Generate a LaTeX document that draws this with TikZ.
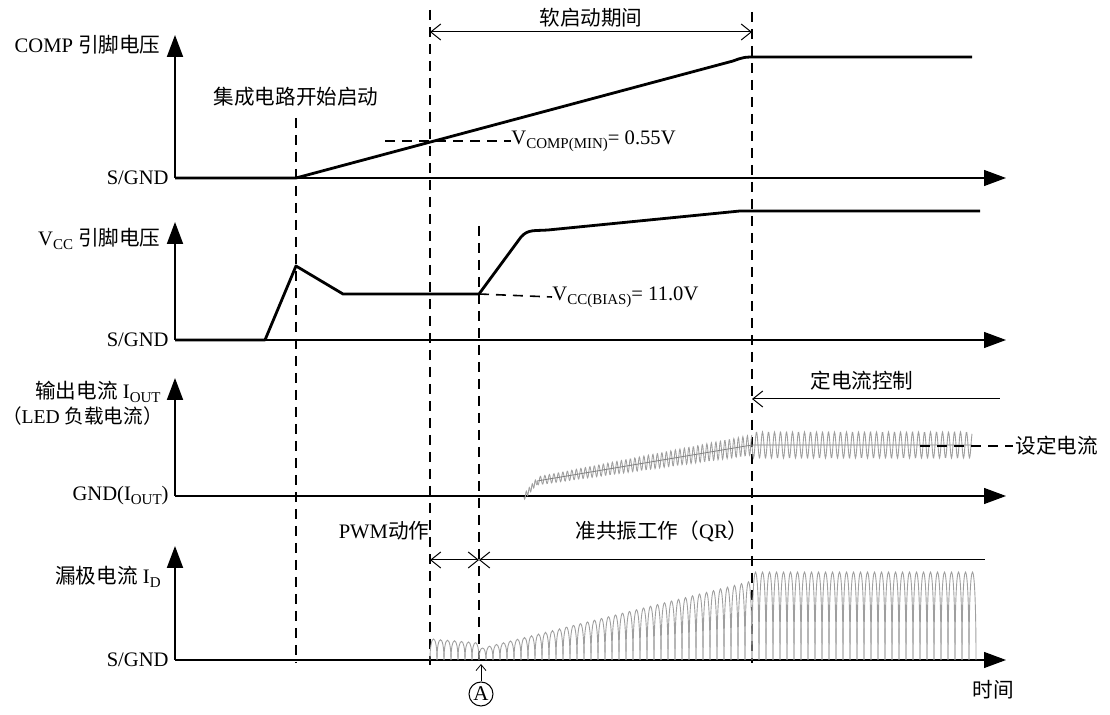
\documentclass[tikz,border=0pt]{standalone}
\usepackage{fontspec}
\setmainfont{Liberation Serif}
\newfontfamily\cjk{Noto Sans CJK SC}
\usetikzlibrary{arrows.meta}
\newcommand\lowtxt[1]{\raisebox{-0.4ex}{\fontsize{7.5}{8}\selectfont #1}}

\tikzset{
  axis/.style={line width=0.6pt,-{Triangle[length=11pt,width=8pt]}},
  yaxis/.style={line width=1pt,-{Triangle[length=11pt,width=8pt]}},
  wave/.style={line width=1.4pt,line join=round},
  marker/.style={line width=0.8pt,dash pattern=on 5pt off 3.5pt},
  span/.style={line width=0.5pt,{Straight Barb[length=5pt,width=8pt]}-{Straight Barb[length=5pt,width=8pt]}},
  lspan/.style={line width=0.5pt,{Straight Barb[length=5pt,width=8pt]}-},
  pulse/.style={gray!75,line width=0.45pt},
  lbl/.style={inner sep=1pt,font=\fontsize{10.3}{12}\selectfont},
}

\begin{document}
\begin{tikzpicture}[x=0.5pt,y=-0.5pt]
\useasboundingbox (0,0) rectangle (1110,715);

% axes
\foreach \base/\top in {178/35,340/222,496/378,660/546}
{
	\draw[yaxis] (175,\base) -- (175,\top);
	\draw[axis] (175,\base) -- (1006,\base);
}

% axis labels
\node[lbl,anchor=east] (comp) at (163,45) {COMP {\cjk 引脚电压}};
\node[lbl,anchor=east] (gnd1) at (171,178) {S/GND};
\node[lbl,anchor=east] (vcc) at (163,239) {V\lowtxt{CC} {\cjk 引脚电压}};
\node[lbl,anchor=east] (gnd2) at (171,340) {S/GND};
\node[lbl,anchor=east] (iout1) at (163,392) {{\cjk 输出电流} I\lowtxt{OUT}};
\node[lbl,anchor=east,inner sep=0pt,font=\fontsize{9.8}{12}\selectfont] (iout2) at (163,416) {{\cjk （}LED {\cjk 负载电流）}};
\node[lbl,anchor=east] (gnd3) at (171,496) {GND(I\lowtxt{OUT})};
\node[lbl,anchor=east] (id) at (163,577) {{\cjk 漏极电流} I\lowtxt{D}};
\node[lbl,anchor=east] (gnd4) at (171,660) {S/GND};

% time markers
\draw[marker] (296,118) -- (296,663);
\draw[marker] (430,10) -- (430,665);
\draw[marker] (479,226) -- (479,665);
\draw[marker] (752,12) -- (752,663);
\node[lbl] (start) at (296,97) {\cjk 集成电路开始启动};

% soft start span
\node[lbl] (soft) at (591,18) {\cjk 软启动期间};
\coordinate (s1) at (430,32);
\coordinate (s2) at (752,32);
\draw[span] (s1) -- (s2);

% COMP
\draw[wave] (175,178) -- (296,178) -- (733,61) .. controls (744,57) .. (758,57) -- (972,57);
\node[lbl,anchor=west,inner sep=0pt] (cmin) at (511,141) {V\lowtxt{COMP(MIN)}= 0.55V};
\draw[marker] (385,141) -- (cmin.west);

% VCC
\draw[wave] (175,340) -- (265,340) -- (296,266) -- (343,294) -- (479,294) -- (521,237)
	.. controls (528,229) and (535,231) .. (548,230) -- (740,211) -- (980,211);
\node[lbl,anchor=west,inner sep=0pt] (bias) at (552,297) {V\lowtxt{CC(BIAS)}= 11.0V};
\draw[marker] (479,294) -- (bias.west);

% IOUT (\x counts ripple cycles)
\draw[wave] (175,496) -- (524,496);
\draw[pulse] plot[domain=0:4.33,samples=40] ({524+3*\x},{497-16*\x/4.33+3*sin(360*mod(\x,1))});
\draw[pulse] plot[domain=0:47.78,samples=520] ({537+4.5*\x},{481-36*\x/47.78+(4+6*\x/47.78)*sin(360*mod(\x,1))});
\draw[pulse] plot[domain=0:36.67,samples=420] ({752+6*\x},{445+13*sin(360*mod(\x,1))});
\draw[gray,line width=0.4pt] (537,481) -- (752,445) -- (972,445);
\node[lbl,anchor=west] (iset) at (1013,446) {\cjk 设定电流};
\draw[marker] (920,446) -- (iset.west);
\node[lbl] (cc) at (862,381) {\cjk 定电流控制};
\coordinate (c1) at (1000,399);
\coordinate (c2) at (752,399);
\draw[lspan] (c2) -- (c1);

% drain current
\draw[wave] (175,660) -- (430,660);
\foreach \i in {0,...,77}
{
	\pgfmathsetmacro\xa{430+7*\i}
	\pgfmathsetmacro\hh{\xa<479 ? 21-0.6*\i : (\xa<752 ? 12+0.249*(\xa-479) : 88)}
	\draw[pulse] (\xa,660) .. controls +(0,-1.33*\hh) and +(0,-1.33*\hh) .. (\xa+7,660);
}
\node[lbl] (pwm) at (384,531) {PWM{\cjk 动作}};
\node[lbl] (qr) at (662,531) {{\cjk 准共振工作（}QR{\cjk ）}};
\coordinate (p1) at (430,560);
\coordinate (p2) at (479,560);
\coordinate (p3) at (985,560);
\draw[span] (p1) -- (p2);
\draw[lspan] (p2) -- (p3);

% point A
\node[circle,draw,line width=0.5pt,inner sep=0pt,minimum size=12pt,font=\fontsize{10.5}{12}\selectfont] (A) at (481,694) {A};
\coordinate (a0) at (481,664);
\draw[line width=0.4pt,-{Straight Barb[length=3pt,width=5pt]}] (A) -- (a0);
\node[lbl] (time) at (993,690) {\cjk 时间};
\end{tikzpicture}
\end{document}
